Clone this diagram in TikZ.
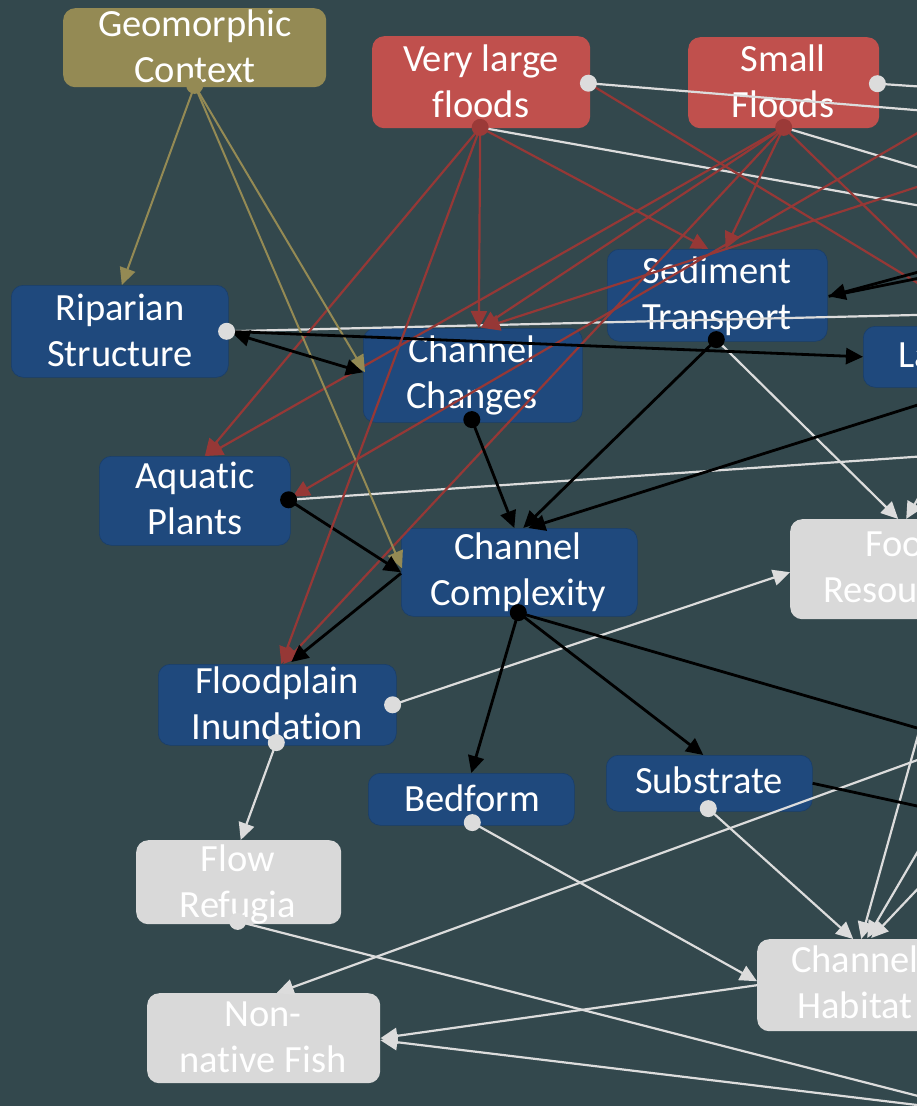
\documentclass[tikz,border=0pt]{standalone}
\usepackage{fontspec}
\setmainfont{Carlito}[Ligatures={NoCommon,NoContextual}]
\usetikzlibrary{arrows.meta,calc}
\definecolor{bgc}{HTML}{33484D}
\definecolor{nodeblue}{HTML}{1F497D}
\definecolor{nodered}{HTML}{C0504D}
\definecolor{nodeolive}{HTML}{948A54}
\definecolor{nodegray}{HTML}{D9D9D9}
\definecolor{linkred}{HTML}{963836}
\definecolor{linkwhite}{HTML}{DCDCDC}
\definecolor{dotred}{HTML}{9B3A38}
\newcommand\duoline[2]{\parbox[t]{320pt}{\centering #1\\#2}}
\newcommand\oneline[1]{\parbox[t]{320pt}{\centering #1}}

\begin{document}
\begin{tikzpicture}[x=1pt,y=-1pt,
  box/.style={rectangle, rounded corners=12pt, inner sep=0pt, anchor=north west},
  bluebox/.style={box, fill=nodeblue, draw=nodeblue!85!black, line width=0.6pt},
  redbox/.style={box, fill=nodered},
  olivebox/.style={box, fill=nodeolive},
  graybox/.style={box, fill=nodegray},
  captxt/.style={inner sep=0pt, anchor=base, text=white, font=\fontsize{38.5}{46}\selectfont},
  tip/.style={-{Triangle[length=17pt,width=16pt]}},
  redlink/.style={draw=linkred, line width=2.2pt},
  whitelink/.style={draw=linkwhite, line width=2.2pt},
  blacklink/.style={draw=black, line width=2.8pt},
  olivelink/.style={draw=nodeolive, line width=2pt},
]
\fill[bgc] (0,0) rectangle (917,1106);
\useasboundingbox (0,0) rectangle (917,1106);
\begin{scope}
\clip (0,0) rectangle (917,1106);

% ---- boxes ----
\node[olivebox, minimum width=263pt, minimum height=79pt] (geo) at (63,8) {};
\node[redbox,   minimum width=218pt, minimum height=92pt] (vlf) at (372,36) {};
\node[redbox,   minimum width=191pt, minimum height=91pt] (sf)  at (688,37) {};
\node[bluebox,  minimum width=220pt, minimum height=92pt] (sed) at (607,249) {};
\node[bluebox,  minimum width=217pt, minimum height=92pt] (rip) at (11,285) {};
\node[bluebox,  minimum width=219pt, minimum height=94pt] (cc)  at (363,328) {};
\node[bluebox,  minimum width=120pt, minimum height=61pt] (lw)  at (863,326) {};
\node[bluebox,  minimum width=191pt, minimum height=89pt] (aq)  at (99,456) {};
\node[bluebox,  minimum width=236pt, minimum height=88pt] (cx)  at (401,528) {};
\node[bluebox,  minimum width=238pt, minimum height=81pt] (fp)  at (158,664) {};
\node[bluebox,  minimum width=206pt, minimum height=52pt] (bed) at (368,773) {};
\node[bluebox,  minimum width=206pt, minimum height=56pt] (sub) at (606,755) {};
\node[graybox,  minimum width=205pt, minimum height=84pt] (fr)  at (136,840) {};
\node[graybox,  minimum width=233pt, minimum height=90pt] (nnf) at (147,993) {};
\node[graybox,  minimum width=224pt, minimum height=100pt] (food) at (790,519) {};
\node[graybox,  minimum width=196pt, minimum height=92pt] (hab) at (757,939) {};

% ---- captions ----
\node[captxt] (geo-t) at (195,36)  {\duoline{Geomorphic}{Context}};
\node[captxt] (vlf-t) at (481,71)  {\duoline{Very large}{floods}};
\node[captxt] (sf-t)  at (783,71)  {\duoline{Small}{Floods}};
\node[captxt] (sed-t) at (717,283) {\duoline{Sediment}{Transport}};
\node[captxt] (rip-t) at (120,320) {\duoline{Riparian}{Structure}};
\node[captxt] (cc-t)  at (472,362) {\duoline{Channel}{Changes}};
\node[captxt] (aq-t)  at (195,488) {\duoline{Aquatic}{Plants}};
\node[captxt] (cx-t)  at (518,559) {\duoline{Channel}{Complexity}};
\node[captxt] (fp-t)  at (277,693) {\duoline{Floodplain}{Inundation}};
\node[captxt] (bed-t) at (472,811) {\oneline{Bedform}};
\node[captxt] (sub-t) at (709,793) {\oneline{Substrate}};
\node[captxt] (fr-t)  at (238,871) {\duoline{Flow}{Refugia}};
\node[captxt] (nnf-t) at (263,1026) {\duoline{Non-}{native Fish}};
\node[captxt] (hab-t) at (855,972) {\duoline{Channel}{Habitat}};
\node[captxt, anchor=base west] (food-t) at (823,556)
  {\parbox[t]{200pt}{\raggedright\hspace*{42pt}Foo\\Resou}};
\node[captxt, anchor=base west] (lw-t) at (898,367) {La};

% ---- ports ----
\coordinate (geo-o) at ($(geo.south)+(0,-2)$);
\coordinate (vlf-o) at ($(vlf.south)+(-1,-1)$);
\coordinate (vlf-w) at ($(vlf.east)+(-2,1)$);
\coordinate (sf-o)  at ($(sf.south)+(0,-1)$);
\coordinate (sf-w)  at ($(sf.east)+(-2,1)$);
\coordinate (rip-o) at ($(rip.east)+(-2,0)$);
\coordinate (sed-o) at ($(sed.south)+(-1,-2)$);
\coordinate (cc-o)  at ($(cc.south)+(-1,-3)$);
\coordinate (aq-o)  at ($(aq.east)+(-2,-1)$);
\coordinate (cx-o)  at ($(cx.south)+(-1,-4)$);
\coordinate (fp-e)  at ($(fp.east)+(-4,0)$);
\coordinate (fp-o)  at ($(fp.south)+(-1,-3)$);
\coordinate (bed-o) at ($(bed.south)+(1,-3)$);
\coordinate (sub-o) at ($(sub.south)+(-1,-3)$);
\coordinate (fr-o)  at ($(fr.south)+(-1,-3)$);

% ---- links leaving the frame ----
\coordinate (ext-r5)  at (1000,333);
\coordinate (ext-r10) at (1000,338);
\coordinate (ext-r11) at (1000,85);
\coordinate (ext-r12) at (1000,160);
\coordinate (ext-b3)  at (1000,379);
\coordinate (ext-b7a) at (1000,250);
\coordinate (ext-b7b) at (1000,262);
\coordinate (ext-b10) at (1000,752);
\coordinate (ext-b11) at (1000,824);
\coordinate (ext-w1)  at (1000,117);
\coordinate (ext-w2)  at (1000,92);
\coordinate (ext-w3)  at (1000,220);
\coordinate (ext-w4)  at (1000,192);
\coordinate (ext-w5)  at (1000,313);
\coordinate (ext-w6)  at (1000,451);
\coordinate (ext-w8)  at (940,460);
\coordinate (ext-w11) at (1000,1117);
\coordinate (ext-w14) at (1000,441);
\coordinate (ext-w15) at (1000,711);
\coordinate (ext-w16) at (1000,802);
\coordinate (ext-w17) at (1000,730);
\coordinate (ext-w19) at (1000,1115);

% white links
\draw[whitelink] (vlf-w) -- (ext-w1);
\draw[whitelink] (sf-w) -- (ext-w2);
\draw[whitelink] (vlf-o) -- (ext-w3);
\draw[whitelink] (sf-o) -- (ext-w4);
\draw[whitelink] (rip-o) -- (ext-w5);
\draw[whitelink] (aq-o) -- (ext-w6);
\draw[whitelink, tip] (sed-o) -- ($(food.north)+(-4,0)$);
\draw[whitelink, tip] (ext-w8) -- ($(food.north)+(4,0)$);
\draw[whitelink, tip] (fp-e) -- ($(food.west)+(0,3)$);
\draw[whitelink, tip] (fp-o) -- ($(fr.north)+(2,0)$);
\draw[whitelink] (fr-o) -- (ext-w11);
\draw[whitelink, tip] (bed-o) -- ($(hab.west)+(0,-4)$);
\draw[whitelink, tip] (sub-o) -- ($(hab.north)+(-2,0)$);
\draw[whitelink, tip] (ext-w14) -- ($(hab.north)+(6,0)$);
\draw[whitelink, tip] (ext-w15) -- ($(hab.north)+(12,-1)$);
\draw[whitelink, tip] (ext-w16) -- ($(hab.north)+(16,-1)$);
\draw[whitelink, tip] (ext-w17) -- ($(nnf.north)+(13,0)$);
\draw[whitelink, tip] (hab.west) -- (nnf.east);
\draw[whitelink, tip] (ext-w19) -- ($(nnf.east)+(0,2)$);

% red links
\draw[redlink, tip] (vlf-o) -- ($(cc.north)+(6,0)$);
\draw[redlink, tip] (vlf-o) -- ($(aq.north)+(10,0)$);
\draw[redlink, tip] (vlf-o) -- ($(sed.north)+(-9,0)$);
\draw[redlink] (vlf-w) -- (ext-r5);
\draw[redlink, tip] (sf-o) -- ($(sed.north)+(8,0)$);
\draw[redlink, tip] (sf-o) -- ($(cc.north)+(8,0)$);
\draw[redlink, tip] (sf-o) -- ($(aq.north)+(11,0)$);
\draw[redlink, tip] (sf-o) -- ($(fp.north)+(6,0)$);
\draw[redlink] (sf-o) -- (ext-r10);
\draw[redlink, tip] (ext-r11) -- ($(aq.east)+(2,-4)$);
\draw[redlink, tip] (ext-r12) -- ($(cc.north)+(10,0)$);

% olive links
\draw[olivelink, tip] (geo-o) -- ($(rip.north)+(2,0)$);
\draw[olivelink, tip] (geo-o) -- ($(cc.west)+(2,-3)$);
\draw[olivelink, tip] (geo-o) -- ($(cx.west)+(1,-4)$);

% black links
\draw[blacklink, tip] (sed-o) -- ($(cx.north)+(4,0)$);
\draw[blacklink, tip] (cc-o) -- ($(cx.north)+(-5,0)$);
\draw[blacklink, tip] (ext-b3) -- ($(cx.north)+(9,0)$);
\draw[blacklink, tip] (aq-o) -- (cx.west);
\draw[blacklink, {Triangle[length=17pt,width=16pt]}-{Triangle[length=17pt,width=16pt]}]
  ($(rip.east)+(4,2)$) -- ($(cc.west)+(0,-3)$);
\draw[blacklink, tip] (rip-o) -- (lw.west);
\draw[blacklink, tip] (ext-b7a) -- ($(sed.east)+(1,1)$);
\draw[blacklink] (ext-b7b) -- ($(sed.east)+(1,1)$);
\draw[blacklink, tip] (cx-o) -- (bed.north);
\draw[blacklink, tip] (cx-o) -- ($(sub.north)+(-6,0)$);
\draw[blacklink] (cx-o) -- (ext-b10);
\draw[blacklink] (sub.east) -- (ext-b11);
\draw[blacklink, tip] ($(cx.west)+(0,1)$) -- ($(fp.north)+(14,-2)$);
% red arrow drawn over the black one at the floodplain box
\draw[redlink, tip] (vlf-o) -- ($(fp.north)+(4,0)$);

% ---- source dots ----
\fill[nodeolive] (geo-o) circle[radius=8.5pt];
\fill[dotred] (vlf-o) circle[radius=8.5pt];
\fill[dotred] (sf-o) circle[radius=8.5pt];
\fill[linkwhite] (vlf-w) circle[radius=8.5pt];
\fill[linkwhite] (sf-w) circle[radius=8.5pt];
\fill[linkwhite] (rip-o) circle[radius=8.5pt];
\fill[black] (sed-o) circle[radius=8.5pt];
\fill[black] (cc-o) circle[radius=8.5pt];
\fill[black] (aq-o) circle[radius=8.5pt];
\fill[black] (cx-o) circle[radius=8.5pt];
\fill[linkwhite] (fp-e) circle[radius=8.5pt];
\fill[linkwhite] (fp-o) circle[radius=8.5pt];
\fill[linkwhite] (bed-o) circle[radius=8.5pt];
\fill[linkwhite] (sub-o) circle[radius=8.5pt];
\fill[linkwhite] (fr-o) circle[radius=8.5pt];
\end{scope}
\end{tikzpicture}
\end{document}
